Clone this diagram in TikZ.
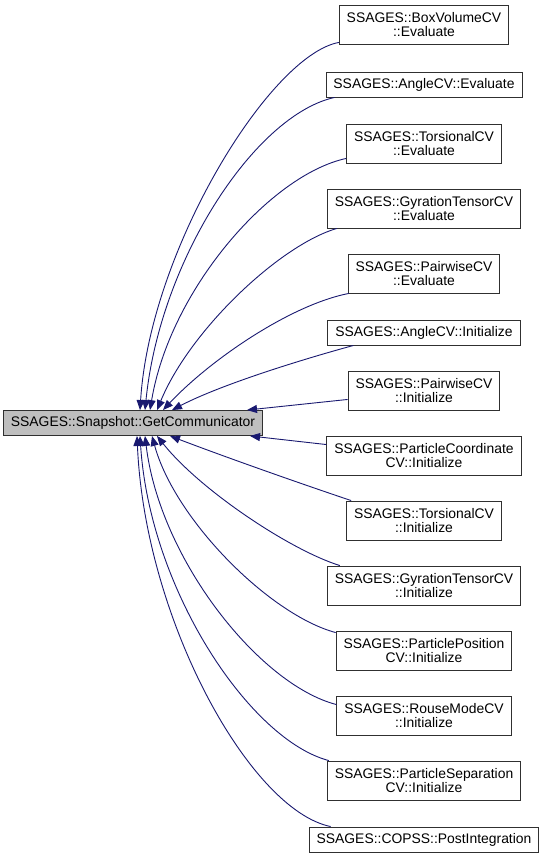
\documentclass[tikz,border=0pt]{standalone}
\usepackage{fontspec}
\setmainfont{Liberation Sans}
\usetikzlibrary{arrows.meta, positioning, calc}

\definecolor{calledge}{RGB}{25,25,112}
\definecolor{boxline}{RGB}{48,48,48}
\definecolor{curfill}{RGB}{191,191,191}

\tikzset{
  fnbox/.style={draw=boxline, line width=0.9pt, fill=white, align=center,
    inner xsep=7.5pt, inner ysep=3pt, minimum height=25pt,
    font=\fontsize{13.9}{14.5}\selectfont},
  fnbox2/.style={fnbox, minimum height=39pt},
  callarrow/.style={draw=calledge, line width=0.9pt,
    -{Triangle[length=10pt, width=8pt]}}
}

\begin{document}
\begin{tikzpicture}[x=1pt, y=-1pt]
\useasboundingbox (0,0) rectangle (544,860);

% function that is called
\node[fnbox, fill=curfill, minimum width=256pt] (getcomm) at (133,423) {SSAGES::Snapshot::GetCommunicator};

% callers
\node[fnbox2] (boxeval) at (424,24.5) {SSAGES::BoxVolumeCV\\::Evaluate};
\node[fnbox] (angleeval) at (424,84.5) {SSAGES::AngleCV::Evaluate};
\node[fnbox2] (torseval) at (424,143.5) {SSAGES::TorsionalCV\\::Evaluate};
\node[fnbox2] (gyreval) at (424,208.5) {SSAGES::GyrationTensorCV\\::Evaluate};
\node[fnbox2] (paireval) at (424,273.5) {SSAGES::PairwiseCV\\::Evaluate};
\node[fnbox] (angleinit) at (424,332.5) {SSAGES::AngleCV::Initialize};
\node[fnbox2] (pairinit) at (424,390.5) {SSAGES::PairwiseCV\\::Initialize};
\node[fnbox2] (coordinit) at (424,455.5) {SSAGES::ParticleCoordinate\\CV::Initialize};
\node[fnbox2] (torsinit) at (424,520.5) {SSAGES::TorsionalCV\\::Initialize};
\node[fnbox2] (gyrinit) at (424,585.5) {SSAGES::GyrationTensorCV\\::Initialize};
\node[fnbox2] (posinit) at (424,650.5) {SSAGES::ParticlePosition\\CV::Initialize};
\node[fnbox2] (rouseinit) at (424,715.5) {SSAGES::RouseModeCV\\::Initialize};
\node[fnbox2] (sepinit) at (424,780.5) {SSAGES::ParticleSeparation\\CV::Initialize};
\node[fnbox] (copsspost) at (424,839.5) {SSAGES::COPSS::PostIntegration};

% calls above
\draw[callarrow] ($(boxeval.south west)+(0,-2)$) .. controls (270,55) and (150,250) .. ($(getcomm.north)+(7,0)$);
\draw[callarrow] ($(angleeval.south west)+(9,0)$) .. controls (255,115) and (160,260) .. ($(getcomm.north)+(12,0)$);
\draw[callarrow] ($(torseval.south west)+(0,-5)$) .. controls (270,175) and (170,290) .. ($(getcomm.north)+(17,0)$);
\draw[callarrow] ($(gyreval.south west)+(10,0)$) .. controls (280,245) and (190,330) .. ($(getcomm.north)+(24,0)$);
\draw[callarrow] ($(paireval.south west)+(1,0)$) .. controls (290,305) and (210,360) .. ($(getcomm.north)+(30,0)$);
\draw[callarrow] ($(angleinit.south west)+(26,0)$) .. controls (300,360) and (220,385) .. ($(getcomm.north)+(39,0)$);
\draw[callarrow] ($(pairinit.south west)+(0,-11)$) -- ($(getcomm.north)+(114,0)$);

% calls below
\draw[callarrow] ($(coordinit.north west)+(0,9)$) -- ($(getcomm.south)+(117,0)$);
\draw[callarrow] ($(torsinit.north west)+(5,0)$) .. controls (290,480) and (220,455) .. ($(getcomm.south)+(37,0)$);
\draw[callarrow] ($(gyrinit.north west)+(13,0)$) .. controls (290,550) and (200,490) .. ($(getcomm.south)+(24,0)$);
\draw[callarrow] ($(posinit.north west)+(0,2)$) .. controls (270,615) and (175,520) .. ($(getcomm.south)+(19,0)$);
\draw[callarrow] ($(rouseinit.north west)+(0,9)$) .. controls (260,685) and (160,560) .. ($(getcomm.south)+(12,0)$);
\draw[callarrow] ($(sepinit.north west)+(2,0)$) .. controls (250,740) and (150,590) .. ($(getcomm.south)+(7,0)$);
\draw[callarrow] ($(copsspost.north west)+(22,0)$) .. controls (250,810) and (145,620) .. ($(getcomm.south)+(4,0)$);
\end{tikzpicture}
\end{document}
